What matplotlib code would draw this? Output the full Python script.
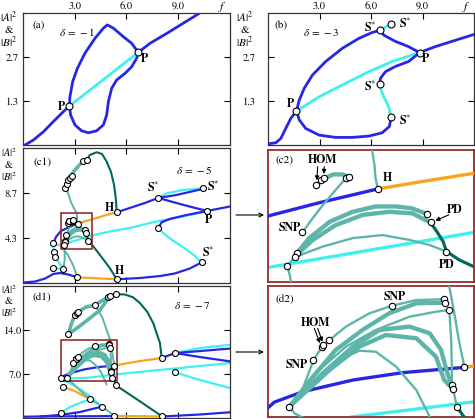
import matplotlib.pyplot as plt
from matplotlib.patches import Rectangle

plt.rcParams['font.family'] = 'STIXGeneral'
plt.rcParams['mathtext.fontset'] = 'stix'

BLUE = '#2626e6'
CYAN = '#40f0f0'
ORANGE = '#f7a520'
TEAL = '#5db4a8'
DKGREEN = '#00685a'
FRAME = '#9a2a2a'

# ---------------- (a) delta = -1 ----------------
a_sym_lo = [(0.12, 0.0), (0.60, 0.15), (1.18, 0.40), (1.76, 0.71), (2.34, 1.01), (2.69, 1.18)]
a_sym_mid = [(2.69, 1.18), (6.69, 2.81)]
a_sym_hi = [(6.69, 2.81), (7.36, 3.08), (8.33, 3.38), (9.29, 3.69), (10.22, 3.99)]
a_asym_up = [(2.69, 1.18), (2.72, 1.46), (2.88, 1.92), (3.15, 2.32), (3.59, 2.78), (4.17, 3.23),
             (4.66, 3.54), (4.89, 3.64), (5.24, 3.54), (5.82, 3.28), (6.30, 3.08), (6.51, 2.93),
             (6.69, 2.81)]
a_asym_lo = [(2.69, 1.18), (2.76, 0.91), (3.01, 0.61), (3.40, 0.43), (3.79, 0.37), (4.27, 0.43),
             (4.66, 0.61), (4.85, 0.91), (4.95, 1.31), (5.14, 1.72), (5.43, 1.97), (5.91, 2.17),
             (6.30, 2.37), (6.59, 2.63), (6.69, 2.81)]
a_dots = [(2.69, 1.18), (6.69, 2.81)]
a_labels = [(r'$\mathbf{P}$', 2.26, 1.18), (r'$\mathbf{P}$', 7.07, 2.63)]

# ---------------- (b) delta = -3 ----------------
b_sym_lo = [(0.0, 0.03), (0.46, 0.07), (0.75, 0.20), (1.04, 0.51), (1.33, 0.81), (1.66, 1.03)]
b_sym_mid = [(1.66, 1.03), (2.98, 1.46), (4.52, 1.87), (5.87, 2.22), (7.23, 2.53), (8.83, 2.80)]
b_sym_hi = [(8.83, 2.80), (9.74, 2.98), (10.71, 3.14), (12.0, 3.35)]
b_up = [(1.66, 1.03), (1.82, 1.36), (2.11, 1.72), (2.59, 2.12), (3.36, 2.53), (4.33, 2.93),
        (5.29, 3.23), (6.07, 3.41), (6.55, 3.48)]
b_s12 = [(6.55, 3.48), (7.17, 3.67)]
b_s1p = [(6.55, 3.48), (6.74, 3.33), (7.42, 3.14), (8.19, 2.98), (8.83, 2.80)]
b_lo = [(1.66, 1.03), (1.82, 0.76), (2.20, 0.50), (2.98, 0.30), (3.94, 0.23), (4.91, 0.23),
        (5.87, 0.27), (6.65, 0.37), (7.07, 0.56), (7.17, 0.84)]
b_s34 = [(7.17, 0.84), (7.03, 1.16), (6.74, 1.46), (6.55, 1.72), (6.51, 1.84)]
b_s4p = [(6.51, 1.84), (6.55, 2.02), (6.84, 2.22), (7.42, 2.38), (8.19, 2.53), (8.83, 2.80)]
b_dots = [(1.66, 1.03), (8.83, 2.80), (6.55, 3.48), (7.17, 3.67), (6.51, 1.84), (7.17, 0.84)]
b_labels = [(r'$\mathbf{P}$', 1.33, 1.26), (r'$\mathbf{P}$', 9.16, 2.63),
            (r'$\mathbf{S}^{*}$', 5.97, 3.54), (r'$\mathbf{S}^{*}$', 8.0, 3.67),
            (r'$\mathbf{S}^{*}$', 5.97, 1.75), (r'$\mathbf{S}^{*}$', 8.0, 0.74)]

# ---------------- (c1)/(c2) delta = -5 ----------------
c1_blue = [
    [(0.0, 0.05), (0.70, 0.14), (1.28, 0.43), (1.76, 0.87), (2.14, 0.96), (2.61, 0.82), (3.15, 0.55)],
    [(5.43, 0.36), (6.78, 0.48), (7.94, 0.67), (8.81, 0.92), (9.68, 1.40), (10.36, 1.99)],
    [(7.84, 5.33), (8.04, 5.85), (8.52, 6.17), (9.49, 6.55), (10.68, 6.94)],
    [(10.68, 6.94), (11.42, 7.18), (12.0, 7.37)],
    [(1.76, 3.82), (1.91, 4.43), (2.2, 5.01), (2.65, 5.36), (3.16, 5.72)],
    [(5.43, 6.81), (6.20, 7.23), (7.07, 7.71), (7.84, 8.19)],
    [(7.84, 8.19), (8.91, 8.48), (10.42, 9.06)],
    [(7.84, 8.19), (9.10, 7.61), (9.97, 7.23), (10.68, 6.94)],
]
c1_cyan = [
    [(10.36, 1.99), (9.97, 2.60), (9.39, 3.32), (8.64, 4.14), (8.12, 4.82), (7.84, 5.33)],
    [(1.76, 3.82), (1.95, 3.70), (2.2, 3.66), (3.0, 4.07), (4.0, 4.58), (5.0, 4.95), (6.2, 5.3),
     (7.54, 5.85), (9.49, 6.48), (10.68, 6.91)],
    [(1.76, 3.82), (1.77, 3.37), (1.80, 2.96)],
    [(1.86, 2.53), (2.03, 2.12), (2.20, 1.69), (2.34, 1.35)],
    [(1.76, 1.48), (2.05, 1.38), (2.34, 1.35)],
    [(7.84, 8.22), (8.33, 8.64), (9.29, 8.96), (10.42, 9.12)],
]
c1_orange = [
    [(3.15, 0.55), (4.17, 0.46), (5.43, 0.36)],
    [(3.16, 5.72), (3.58, 5.93), (4.0, 6.13), (4.7, 6.48), (5.43, 6.81)],
]
c1_teal_thick = [
    [(2.43, 9.25), (2.55, 9.73), (2.72, 10.21), (3.01, 10.89), (3.30, 11.42), (3.54, 11.75), (3.69, 11.85)],
]
c1_teal_thin = [
    [(2.53, 9.28), (2.62, 8.6), (2.78, 7.8), (2.95, 7.2), (3.11, 6.74), (3.13, 6.35), (3.14, 6.0), (3.16, 5.72)],
    [(2.41, 3.1), (2.6, 2.7), (2.85, 1.9), (3.0, 1.3), (3.15, 0.55)],
    [(2.37, 3.70), (2.39, 3.46), (2.41, 3.1), (2.42, 2.3), (2.34, 1.35)],
]
c1_dark = [
    [(3.69, 11.85), (3.88, 12.33), (4.27, 12.59), (4.58, 12.43), (4.85, 11.69), (5.10, 10.69),
     (5.28, 9.44), (5.39, 8.0), (5.43, 6.81)],
    [(3.62, 4.84), (3.68, 4.58), (3.73, 4.34), (3.76, 4.08), (3.87, 3.86), (4.0, 3.68), (4.46, 2.70),
     (5.04, 1.42), (5.43, 0.36)],
]
# zoomed detail (c2), also drawn small in (c1)
c2_teal_thick = [
    [(2.66, 5.95), (2.77, 6.10), (2.85, 6.10), (2.905, 6.04)],
    [(2.44, 3.99), (2.56, 4.43), (2.74, 4.86), (2.94, 5.12), (3.14, 5.26), (3.32, 5.26), (3.46, 5.21), (3.59, 5.06)],
    [(2.44, 3.96), (2.59, 4.38), (2.79, 4.77), (3.03, 5.04), (3.26, 5.12), (3.46, 5.08), (3.62, 4.84)],
]
c2_teal_thin = [
    [(2.62, 5.82), (2.66, 5.95)],
    [(2.50, 4.58), (2.59, 4.95), (2.68, 5.30), (2.79, 5.69), (2.88, 6.0)],
    [(2.44, 3.94), (2.68, 4.21), (2.94, 4.43), (3.20, 4.51), (3.44, 4.38), (3.61, 4.25), (3.76, 4.08)],
    [(2.37, 3.70), (2.41, 3.85), (2.44, 3.94)],
]
c1_dots = [(2.43, 9.18), (2.53, 9.51), (2.63, 9.92), (2.72, 10.14), (2.82, 10.33), (3.50, 11.75),
           (3.69, 11.85), (5.43, 6.81), (5.43, 0.36), (3.15, 0.55), (1.76, 3.82), (1.80, 2.96),
           (1.86, 2.53), (1.76, 1.48), (2.34, 1.35), (7.84, 8.22), (10.42, 9.12), (10.68, 6.94),
           (7.84, 5.33), (10.36, 1.99)]
c2_dots = [(2.62, 5.82), (2.66, 5.95), (2.69, 6.0), (2.88, 6.0), (2.905, 6.02), (3.164, 5.718),
           (2.50, 4.58), (3.586, 5.062), (3.624, 4.844), (3.755, 4.075), (2.453, 4.031),
           (2.439, 3.944), (2.366, 3.70)]
c1_labels = [(r'$\mathbf{S}^{*}$', 7.56, 9.18), (r'$\mathbf{S}^{*}$', 11.03, 9.28),
             (r'$\mathbf{P}$', 10.74, 6.07), (r'$\mathbf{S}^{*}$', 10.74, 2.86),
             (r'$\mathbf{H}$', 5.04, 7.29), (r'$\mathbf{H}$', 5.62, 1.19)]
c1_box = (2.2, 3.28, 4.0, 6.74)
c2_labels = [('HOM', 2.677, 6.478), ('H', 3.245, 5.997), ('SNP', 2.39, 4.70),
             ('PD', 3.83, 5.167), ('PD', 3.76, 3.726)]
c2_arrows = [((2.634, 6.303), (2.625, 5.87)), ((2.692, 6.303), (2.685, 6.04)),
             ((3.78, 5.04), (3.64, 4.86))]

# ---------------- (d1)/(d2) delta = -7 ----------------
d1_blue = [
    [(0.0, 0.2), (0.99, 0.24), (2.72, 0.27), (4.46, 0.29), (5.28, 0.32)],
    [(8.08, 0.24), (10.26, 0.56), (12.0, 0.91)],
    [(0.99, 0.24), (2.14, 0.48), (3.30, 0.95), (4.56, 1.80)],
    [(8.04, 9.54), (8.81, 10.33), (10.26, 10.65), (12.0, 11.05)],
    [(8.81, 10.33), (10.26, 9.70), (12.0, 9.01)],
]
d1_blue_up = [(2.19, 6.31), (2.3, 6.62), (2.75, 7.14), (3.54, 7.72), (4.33, 8.09), (5.30, 8.35)]
d1_cyan = [
    [(2.19, 0.84), (2.72, 1.75), (3.30, 2.38), (3.88, 2.97)],
    [(2.19, 6.2), (2.72, 5.56), (3.30, 4.61), (3.88, 3.50), (4.56, 1.80)],
    [(2.19, 6.25), (3.0, 6.32), (3.88, 6.44), (5.62, 7.0), (7.36, 7.50), (8.81, 7.87),
     (10.26, 8.27), (12.0, 8.74)],
    [(8.81, 10.33), (10.26, 11.13), (12.0, 11.65)],
    [(8.81, 7.27), (10.26, 6.04), (12.0, 4.77)],
]
d2_cyan = [(3.51, 5.88), (4.5, 6.26), (5.46, 6.64)]
d1_orange = [
    [(5.28, 0.32), (6.78, 0.29), (8.08, 0.24)],
    [(2.30, 4.98), (3.01, 4.29), (3.88, 2.97)],
    [(5.30, 8.35), (6.78, 9.06), (8.04, 9.54)],
]
d1_teal_thick = [
    [(2.63, 13.31), (2.78, 14.79), (3.01, 16.38), (3.21, 16.90)],
    [(3.21, 16.90), (3.65, 17.65), (4.17, 17.97), (4.64, 18.76), (4.94, 19.28), (5.04, 19.40), (5.39, 19.71)],
    [(2.63, 13.31), (3.5, 15.06), (4.46, 17.17), (5.04, 19.4)],
]
d1_teal_thin = [
    [(4.17, 17.97), (4.6, 16.0), (4.85, 14.0), (5.06, 12.37), (5.14, 11.04), (5.21, 9.71), (5.30, 8.35)],
    [(3.88, 2.97), (4.46, 2.07), (4.93, 1.11), (5.28, 0.32)],
]
d1_dark = [
    [(5.39, 19.71), (5.91, 19.65), (6.38, 19.2), (6.78, 18.28), (7.2, 16.9), (7.55, 15.1),
     (7.94, 11.92), (8.04, 9.54)],
    [(5.39, 5.25), (5.62, 4.77), (6.78, 2.65), (7.5, 1.3), (8.08, 0.24)],
]
# zoomed detail (d2), also drawn small in (d1)
d2_teal_thick = [
    [(2.54, 6.40), (2.91, 7.89), (3.27, 9.22), (3.69, 10.21), (4.11, 11.04), (4.54, 11.54), (4.99, 11.57)],
    [(2.54, 6.40), (3.06, 8.05), (3.54, 9.38), (3.96, 10.21), (4.43, 10.38), (4.75, 10.05),
     (4.93, 9.22), (5.03, 8.05), (5.10, 7.47)],
    [(2.54, 6.40), (3.17, 8.22), (3.64, 9.38), (4.06, 9.96), (4.54, 9.80), (4.85, 8.88),
     (4.98, 7.72), (5.12, 7.26)],
]
d2_teal_thin = [
    [(2.54, 6.36), (2.72, 7.06), (2.92, 8.72), (3.07, 9.46), (3.17, 9.71), (3.43, 10.38),
     (3.80, 11.04), (4.16, 11.42), (4.54, 11.70), (4.98, 11.74)],
    [(2.54, 6.40), (3.01, 8.22), (3.43, 9.38), (3.90, 10.21), (4.43, 10.87), (4.85, 11.12), (5.06, 11.21)],
    [(2.56, 6.43), (3.01, 7.72), (3.38, 8.80), (3.64, 9.18), (3.90, 9.13), (4.22, 8.39),
     (4.54, 7.22), (4.75, 5.90), (4.85, 5.3)],
    [(5.06, 11.21), (5.09, 9.71), (5.10, 8.39), (5.10, 7.47), (5.12, 7.26), (5.18, 6.40)],
    [(2.54, 6.36), (2.62, 6.06), (2.77, 5.81), (3.3, 4.4), (3.88, 2.97)],
]
d2_dark = [(5.18, 6.40), (5.27, 5.98), (5.32, 5.81), (5.39, 5.25)]
d1_dots = [(2.19, 6.31), (2.63, 13.31), (3.01, 16.38), (3.15, 16.74), (3.21, 16.90), (4.17, 17.97),
           (4.94, 19.28), (5.04, 19.40), (5.39, 19.71), (8.04, 9.54), (8.81, 10.33), (8.81, 7.27),
           (5.39, 5.25), (5.28, 0.32), (8.08, 0.24), (4.56, 1.80), (2.19, 0.84), (3.88, 2.97),
           (2.30, 4.98)]
d2_dots = [(4.156, 11.422), (4.982, 11.737), (4.992, 11.571), (5.061, 11.206), (3.052, 9.381),
           (3.073, 9.464), (3.168, 9.713), (2.915, 8.717), (2.536, 6.362), (5.103, 7.473),
           (5.124, 7.257), (5.176, 6.395), (5.297, 8.352)]
d1_box = (2.2, 5.88, 5.45, 12.4)
d2_labels = [('SNP', 4.20, 11.84), ('HOM', 2.95, 10.54), ('SNP', 2.65, 8.47)]
d2_arrows = [((2.931, 10.29), (3.036, 9.42)), ((2.984, 10.29), (3.073, 9.50))]

W, H = 475, 419
fig = plt.figure(figsize=(W / 100, H / 100), dpi=100)


def add_ax(l, t, r, b):
    return fig.add_axes([l / W, 1 - b / H, (r - l) / W, (b - t) / H])


def ftext(x, y, s, **kw):
    fig.text(x / W, 1 - y / H, s, ha='center', va='center', **kw)


def curve(ax, pts, color, lw, z=2):
    xs, ys = zip(*pts)
    ax.plot(xs, ys, color=color, lw=lw, solid_capstyle='round', solid_joinstyle='round', zorder=z)


def dots(ax, pts, ms=4.5):
    xs, ys = zip(*pts)
    ax.plot(xs, ys, 'o', ms=ms, mfc='white', mec='k', mew=0.8, ls='none', zorder=6)


def setup(ax, ymax, ylabels, ypad, top=False):
    ax.set_xlim(0, 12)
    ax.set_ylim(0, ymax)
    ax.set_xticks([3, 6, 9])
    ax.set_yticks([ymax / 3, 2 * ymax / 3])
    ax.set_yticklabels(ylabels)
    ax.tick_params(direction='in', top=True, right=True, length=4, width=0.8, labelsize=7.5)
    ax.tick_params(axis='y', pad=ypad)
    ax.tick_params(axis='x', pad=1.5, labelbottom=False, labeltop=top)
    if top:
        ax.set_xticklabels(['3.0', '6.0', '9.0'])
    for s in ax.spines.values():
        s.set_linewidth(0.9)
        s.set_color('#333333')


def zoom_frame(ax, box):
    ax.set_xlim(box[0], box[2])
    ax.set_ylim(box[1], box[3])
    ax.set_xticks([])
    ax.set_yticks([])
    for s in ax.spines.values():
        s.set_linewidth(1.3)
        s.set_color(FRAME)


def put_labels(ax, labels, bold=False, size=8.5):
    for s, x, y in labels:
        ax.text(x, y, s, ha='center', va='center', fontsize=size,
                fontweight='bold' if bold else 'normal', zorder=7)


def stack_label(x, ys, size):
    for y, s in zip(ys, (r'$|A|^2$', '&', r'$|B|^2$')):
        ftext(x, y, s, fontsize=size)


ax_a = add_ax(23, 13, 230, 145)
ax_b = add_ax(268, 13, 474, 145)
ax_c1 = add_ax(23, 148, 230, 283)
ax_c2 = add_ax(268, 150, 474, 282)
ax_d1 = add_ax(23, 286, 230, 418)
ax_d2 = add_ax(268, 286, 474, 417)

# (a)
setup(ax_a, 4, ['1.3', '2.7'], 3, top=True)
curve(ax_a, a_sym_mid, CYAN, 2.0)
for seg in (a_sym_lo, a_sym_hi, a_asym_up, a_asym_lo):
    curve(ax_a, seg, BLUE, 2.0, 3)
dots(ax_a, a_dots, 5)
put_labels(ax_a, a_labels)
ax_a.text(0.075, 0.905, '(a)', transform=ax_a.transAxes, ha='center', va='center', fontsize=8)
ax_a.text(0.26, 0.855, r'$\delta\,=\,-1$', transform=ax_a.transAxes, ha='center', va='center', fontsize=8)

# (b)
setup(ax_b, 4, ['1.3', '2.7'], 9, top=True)
for seg in (b_sym_mid, b_s12, b_s34):
    curve(ax_b, seg, CYAN, 2.0)
for seg in (b_sym_lo, b_sym_hi, b_up, b_s1p, b_lo, b_s4p):
    curve(ax_b, seg, BLUE, 2.0, 3)
dots(ax_b, b_dots, 5)
put_labels(ax_b, b_labels)
ax_b.text(0.063, 0.905, '(b)', transform=ax_b.transAxes, ha='center', va='center', fontsize=8)
ax_b.text(0.257, 0.855, r'$\delta\,=\,-3$', transform=ax_b.transAxes, ha='center', va='center', fontsize=8)

# (c1) and (c2)
setup(ax_c1, 13, ['4.3', '8.7'], 4)
zoom_frame(ax_c2, c1_box)
for ax, k, kt in ((ax_c1, 1.0, 1.0), (ax_c2, 1.5, 1.2)):
    for seg in c1_cyan:
        curve(ax, seg, CYAN, 1.6 * k)
    for seg in c1_blue:
        curve(ax, seg, BLUE, 1.6 * k, 3)
    for seg in c1_orange:
        curve(ax, seg, ORANGE, 1.6 * k, 3)
    for seg in c1_teal_thick + c2_teal_thick:
        curve(ax, seg, TEAL, 2.6 * kt, 4)
    for seg in c1_teal_thin + c2_teal_thin:
        curve(ax, seg, TEAL, 1.4 * kt, 4)
    for seg in c1_dark:
        curve(ax, seg, DKGREEN, 1.5 * k, 4)
dots(ax_c1, c1_dots + c2_dots, 4.3)
dots(ax_c2, c2_dots, 4.6)
ax_c1.add_patch(Rectangle((c1_box[0], c1_box[1]), c1_box[2] - c1_box[0], c1_box[3] - c1_box[1],
                          fill=False, ec=FRAME, lw=1.2, zorder=5))
put_labels(ax_c1, c1_labels)
put_labels(ax_c2, c2_labels, bold=True)
for start, end in c2_arrows:
    ax_c2.annotate('', xy=end, xytext=start,
                   arrowprops=dict(arrowstyle='-|>', lw=0.8, color='k', mutation_scale=6,
                                   shrinkA=0, shrinkB=2), zorder=7)
ax_c1.text(0.092, 0.895, '(c1)', transform=ax_c1.transAxes, ha='center', va='center', fontsize=8)
ax_c1.text(0.826, 0.837, r'$\delta\,=\,-5$', transform=ax_c1.transAxes, ha='center', va='center', fontsize=8)
ax_c2.text(0.078, 0.924, '(c2)', transform=ax_c2.transAxes, ha='center', va='center', fontsize=8)

# (d1) and (d2)
setup(ax_d1, 21, ['7.0', '14.0'], 1)
zoom_frame(ax_d2, d1_box)
for seg in d1_cyan:
    curve(ax_d1, seg, CYAN, 1.6)
curve(ax_d2, d2_cyan, CYAN, 2.4)
for ax, k, kt in ((ax_d1, 1.0, 1.0), (ax_d2, 1.5, 1.2)):
    for seg in d1_blue + [d1_blue_up]:
        curve(ax, seg, BLUE, 1.6 * k, 3)
    for seg in d1_orange:
        curve(ax, seg, ORANGE, 1.6 * k, 3)
    for seg in d1_teal_thick + d2_teal_thick:
        curve(ax, seg, TEAL, 2.6 * kt, 4)
    for seg in d1_teal_thin + d2_teal_thin:
        curve(ax, seg, TEAL, 1.4 * kt, 4)
    for seg in d1_dark + [d2_dark]:
        curve(ax, seg, DKGREEN, 1.5 * k, 4)
dots(ax_d1, d1_dots + d2_dots, 4.3)
dots(ax_d2, d2_dots, 4.6)
ax_d1.add_patch(Rectangle((d1_box[0], d1_box[1]), d1_box[2] - d1_box[0], d1_box[3] - d1_box[1],
                          fill=False, ec=FRAME, lw=1.2, zorder=5))
put_labels(ax_d2, d2_labels, bold=True)
for start, end in d2_arrows:
    ax_d2.annotate('', xy=end, xytext=start,
                   arrowprops=dict(arrowstyle='-|>', lw=0.8, color='k', mutation_scale=6,
                                   shrinkA=0, shrinkB=2), zorder=7)
ax_d1.text(0.092, 0.915, '(d1)', transform=ax_d1.transAxes, ha='center', va='center', fontsize=8)
ax_d1.text(0.816, 0.856, r'$\delta\,=\,-7$', transform=ax_d1.transAxes, ha='center', va='center', fontsize=8)
ax_d2.text(0.083, 0.90, '(d2)', transform=ax_d2.transAxes, ha='center', va='center', fontsize=8)

# axis titles
stack_label(9, (17.5, 30, 42), 8)
stack_label(244.5, (17.5, 30, 42), 8)
stack_label(9, (153, 165, 177), 7.5)
stack_label(9, (290, 301.5, 313), 7.5)
ftext(222, 7, r'$f$', fontsize=8.5)
ftext(466, 7, r'$f$', fontsize=8.5)

# arrows from the boxes to the zoomed panels
for y in (215, 352):
    ax_c1.annotate('', xy=(264, H - y), xytext=(236, H - y), xycoords='figure pixels',
                   textcoords='figure pixels', annotation_clip=False,
                   arrowprops=dict(arrowstyle='->', lw=0.8, color='k', mutation_scale=7,
                                   shrinkA=0, shrinkB=0))

fig.savefig('out.png', dpi=100)
